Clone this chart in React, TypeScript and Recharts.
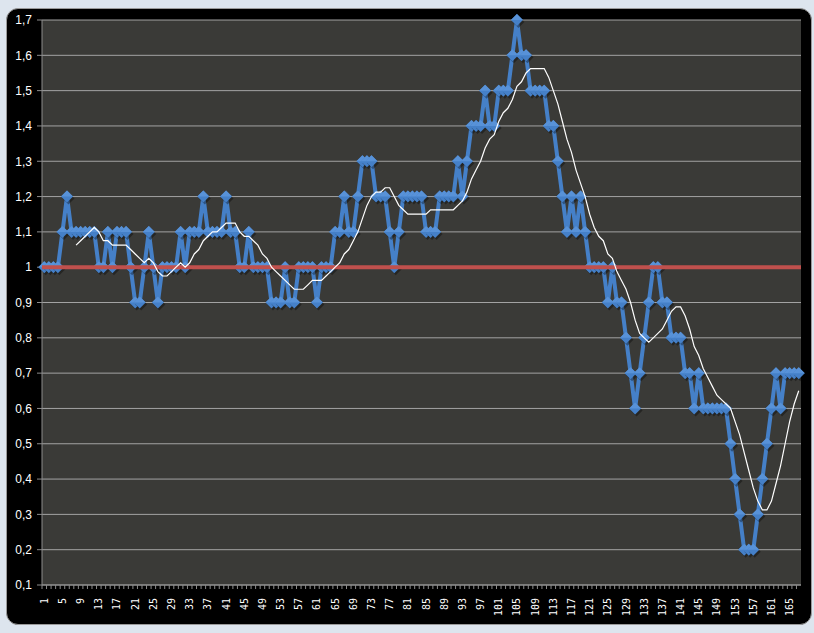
import { LineChart, Line, XAxis, YAxis, CartesianGrid, ReferenceLine } from 'recharts';

// readings, one per day (1..167)
const values = [
  1.0, 1.0, 1.0, 1.0, 1.1, 1.2, 1.1, 1.1, 1.1, 1.1,
  1.1, 1.1, 1.0, 1.0, 1.1, 1.0, 1.1, 1.1, 1.1, 1.0,
  0.9, 0.9, 1.0, 1.1, 1.0, 0.9, 1.0, 1.0, 1.0, 1.0,
  1.1, 1.0, 1.1, 1.1, 1.1, 1.2, 1.1, 1.1, 1.1, 1.1,
  1.2, 1.1, 1.1, 1.0, 1.0, 1.1, 1.0, 1.0, 1.0, 1.0,
  0.9, 0.9, 0.9, 1.0, 0.9, 0.9, 1.0, 1.0, 1.0, 1.0,
  0.9, 1.0, 1.0, 1.0, 1.1, 1.1, 1.2, 1.1, 1.1, 1.2,
  1.3, 1.3, 1.3, 1.2, 1.2, 1.2, 1.1, 1.0, 1.1, 1.2,
  1.2, 1.2, 1.2, 1.2, 1.1, 1.1, 1.1, 1.2, 1.2, 1.2,
  1.2, 1.3, 1.2, 1.3, 1.4, 1.4, 1.4, 1.5, 1.4, 1.4,
  1.5, 1.5, 1.5, 1.6, 1.7, 1.6, 1.6, 1.5, 1.5, 1.5,
  1.5, 1.4, 1.4, 1.3, 1.2, 1.1, 1.2, 1.1, 1.2, 1.1,
  1.0, 1.0, 1.0, 1.0, 0.9, 1.0, 0.9, 0.9, 0.8, 0.7,
  0.6, 0.7, 0.8, 0.9, 1.0, 1.0, 0.9, 0.9, 0.8, 0.8,
  0.8, 0.7, 0.7, 0.6, 0.7, 0.6, 0.6, 0.6, 0.6, 0.6,
  0.6, 0.5, 0.4, 0.3, 0.2, 0.2, 0.2, 0.3, 0.4, 0.5,
  0.6, 0.7, 0.6, 0.7, 0.7, 0.7, 0.7,
];

const categories = values.map((_, i) => i + 1);
const yTicks = [0.1, 0.2, 0.3, 0.4, 0.5, 0.6, 0.7, 0.8, 0.9, 1, 1.1, 1.2, 1.3, 1.4, 1.5, 1.6, 1.7];
const baseline = 1;
const maPeriod = 8;

// moving average trendline (period 8), like the spreadsheet's
function movingAverage(arr: number[], n: number) {
  return arr.map((_, i) => {
    if (i < n - 1) return null;
    let s = 0;
    for (let k = i - n + 1; k <= i; k++) s += arr[k];
    return s / n;
  });
}

const ma = movingAverage(values, maPeriod);
const data = categories.map((c, i) => ({ cat: c, v: values[i], ma: ma[i] }));

const Diamond = (props: any) => {
  const { cx, cy, index } = props;
  if (cx == null || cy == null) return null;
  const r = 6;
  return (
    <g key={`d-${index}`}>
      <polygon
        points={`${cx + 1.5},${cy - r + 2} ${cx + r + 1.5},${cy + 2} ${cx + 1.5},${cy + r + 2} ${cx - r + 1.5},${cy + 2}`}
        fill="rgba(0,0,0,0.35)"
      />
      <polygon points={`${cx},${cy - r} ${cx + r},${cy} ${cx},${cy + r} ${cx - r},${cy}`} fill="#4580c8" />
      <polygon points={`${cx},${cy - r} ${cx + r},${cy} ${cx - r},${cy}`} fill="#5892d8" />
    </g>
  );
};

const XTick = (props: any) => {
  const { x, y, payload, index } = props;
  const half = 2.27;
  return (
    <g>
      <line x1={x - half} x2={x - half} y1={y - 13} y2={y - 9} stroke="#8c8c8c" />
      {index % 4 === 0 && (
        <text
          x={x}
          y={y}
          dy={3.5}
          transform={`rotate(-90, ${x}, ${y})`}
          textAnchor="end"
          fill="#ffffff"
          fontSize={10}
          fontFamily="DejaVu Sans Mono"
        >
          {payload.value}
        </text>
      )}
    </g>
  );
};

export default function App() {
  return (
    <div style={{ position: 'absolute', left: 0, top: 0, width: 814, height: 633, background: '#dde5ee', overflow: 'hidden' }}>
      <div
        style={{
          position: 'absolute',
          left: 6,
          top: 8,
          width: 804,
          height: 615,
          background: '#000',
          borderRadius: 12,
          border: '1px solid #9a9a9a',
        }}
      />
      <div style={{ position: 'absolute', left: 0, top: 0 }}>
        <LineChart width={814} height={633} data={data} margin={{ top: 20, right: 13, bottom: 0, left: 0 }}>
          <CartesianGrid vertical={false} stroke="#a3a3a3" fill="#3a3a37" />
          <XAxis
            dataKey="cat"
            interval={0}
            height={48}
            tickSize={4}
            tickMargin={9}
            tickLine={false}
            tick={<XTick />}
            axisLine={{ stroke: '#8c8c8c' }}
            padding={{ left: 2.27, right: 2.27 }}
          />
          <YAxis
            width={42}
            domain={[0.1, 1.7]}
            ticks={yTicks}
            tickFormatter={(v: number) => String(v).replace('.', ',')}
            tick={{ fill: '#ffffff', fontSize: 12, fontFamily: 'Liberation Sans' }}
            tickSize={5}
            tickMargin={5}
            tickLine={{ stroke: '#8c8c8c' }}
            axisLine={{ stroke: '#8c8c8c' }}
          />
          <Line
            type="linear"
            dataKey="v"
            stroke="#4580c8"
            strokeWidth={4}
            dot={Diamond}
            activeDot={false}
            isAnimationActive={false}
          />
          <ReferenceLine y={baseline} stroke="#c0504d" strokeWidth={4} zIndex={1500} />
          <Line
            type="linear"
            dataKey="ma"
            stroke="#ffffff"
            strokeWidth={1.2}
            dot={false}
            activeDot={false}
            isAnimationActive={false}
            zIndex={1600}
          />
        </LineChart>
      </div>
    </div>
  );
}
